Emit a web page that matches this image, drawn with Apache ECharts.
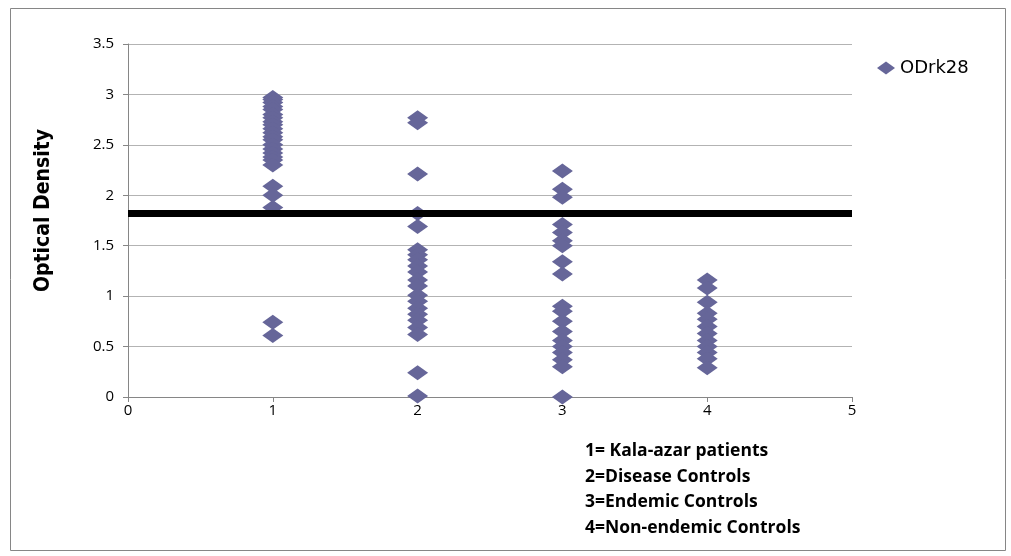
<!DOCTYPE html>
<html><head><meta charset="utf-8">
<script src="https://cdn.jsdelivr.net/npm/echarts@6/dist/echarts.min.js"></script>
<style>html,body{margin:0;padding:0;background:#fff}#c{width:1011px;height:556px}</style>
</head><body><div id="c"></div>
<script>
const groups = [1, 2, 3, 4];
const group1Values = [2.97, 2.95, 2.92, 2.88, 2.85, 2.8, 2.77, 2.73, 2.7, 2.66, 2.62, 2.58, 2.55, 2.5, 2.46, 2.42, 2.38, 2.35, 2.3, 2.09, 2.0, 1.88, 0.74, 0.61];
const group2Values = [2.77, 2.72, 2.21, 1.82, 1.69, 1.46, 1.41, 1.36, 1.3, 1.24, 1.16, 1.1, 1.01, 0.95, 0.88, 0.82, 0.76, 0.69, 0.62, 0.24, 0.01];
const group3Values = [2.24, 2.06, 1.98, 1.71, 1.63, 1.55, 1.5, 1.34, 1.22, 0.9, 0.85, 0.75, 0.65, 0.56, 0.5, 0.44, 0.37, 0.3, 0.0];
const group4Values = [1.16, 1.08, 0.94, 0.83, 0.77, 0.7, 0.63, 0.56, 0.5, 0.44, 0.38, 0.29];
const cutoff = 1.82;
const seriesName = 'ODrk28';
const xTicks = [0, 1, 2, 3, 4, 5];
const yTicks = [0, 0.5, 1, 1.5, 2, 2.5, 3, 3.5];
const groupLegend = ['1= Kala-azar patients', '2=Disease Controls', '3=Endemic Controls', '4=Non-endemic Controls'];

const allValues = [group1Values, group2Values, group3Values, group4Values];
const points = [];
allValues.forEach((vals, i) => vals.forEach(v => points.push([groups[i], v])));

const chart = echarts.init(document.getElementById('c'));
const font = 'Open Sans';
chart.setOption({
  animation: false,
  grid: { left: 128, right: 159, top: 44, bottom: 159 },
  legend: {
    data: [seriesName], left: 872, top: 54, itemWidth: 18, itemHeight: 13, itemGap: 4,
    textStyle: { fontFamily: 'DejaVu Sans', fontSize: 18, color: '#000' }
  },
  xAxis: {
    type: 'value', min: 0, max: 5, interval: 1,
    axisLine: { show: true, lineStyle: { color: '#868686', width: 1 } },
    axisTick: { show: true, inside: false, length: 5, lineStyle: { color: '#868686' } },
    splitLine: { show: false },
    axisLabel: { fontFamily: font, fontSize: 15, color: '#000', margin: 6,
      formatter: v => xTicks.includes(v) ? String(v) : '' }
  },
  yAxis: {
    type: 'value', min: 0, max: 3.5, interval: 0.5,
    name: 'Optical Density', nameLocation: 'middle', nameGap: 74, nameRotate: 90,
    nameTextStyle: { fontFamily: 'DejaVu Sans Condensed', fontWeight: 'bold', fontSize: 21, color: '#000', padding: [0, 0, 0, 20] },
    axisLine: { show: true, lineStyle: { color: '#868686', width: 1 } },
    axisTick: { show: true, length: 5, lineStyle: { color: '#868686' } },
    splitLine: { show: true, lineStyle: { color: '#b3b3b3', width: 1 } },
    axisLabel: { fontFamily: font, fontSize: 15, color: '#000', margin: 14,
      formatter: v => yTicks.includes(v) ? String(v) : '' }
  },
  series: [{
    name: seriesName, type: 'scatter', symbol: 'diamond', symbolSize: [21, 15],
    itemStyle: { color: '#666699', opacity: 1 },
    data: points,
    markLine: {
      silent: true, symbol: ['none', 'none'], label: { show: false },
      lineStyle: { color: '#000', width: 7, type: 'solid' },
      data: [{ yAxis: cutoff }]
    },
    z: 2
  }],
  graphic: [
    { type: 'rect', left: 8, top: 6, shape: { width: 995, height: 542 }, style: { fill: 'none', stroke: '#868686', lineWidth: 1 }, z: -1 },
    ...groupLegend.map((t, i) => ({
      type: 'text', x: 585, y: 451 + i * 25.6,
      style: { text: t, fontFamily: font, fontWeight: 'bold', fontSize: 17.5, fill: '#000', verticalAlign: 'middle' }
    }))
  ]
});
</script></body></html>
